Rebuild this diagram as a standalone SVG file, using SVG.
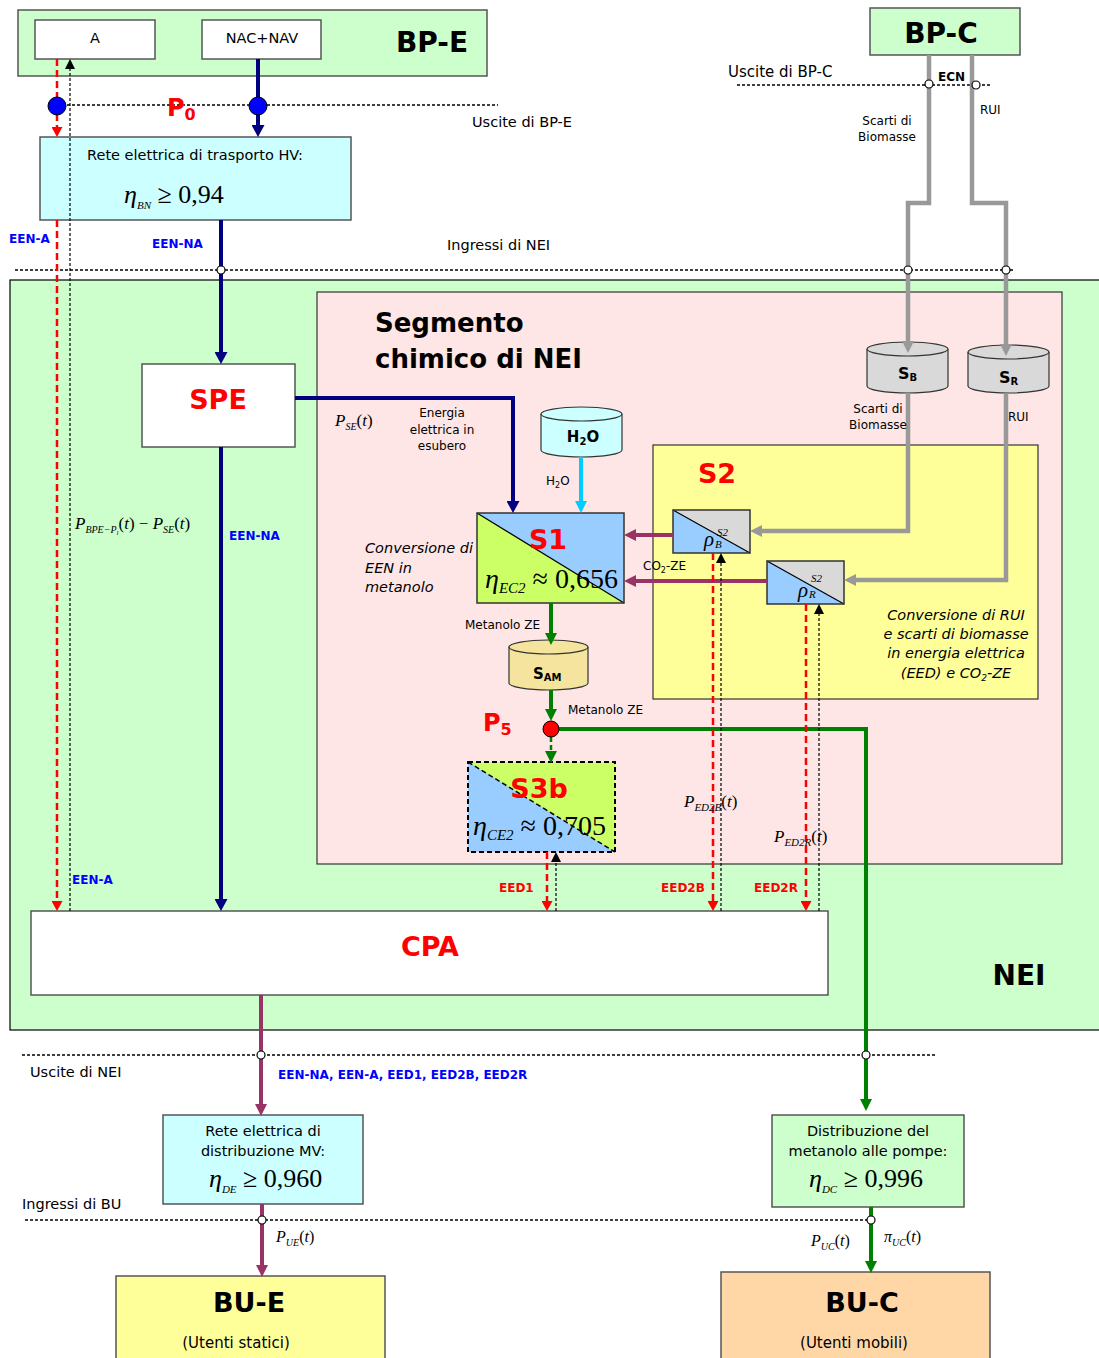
<svg xmlns="http://www.w3.org/2000/svg" width="1099" height="1358" viewBox="0 0 1099 1358">
<style>
text{font-family:"DejaVu Sans","Liberation Sans",sans-serif;fill:#000}
.t{font-size:14.5px}
.s{font-size:12px}
.b{font-weight:bold}
.it{font-style:italic}
.ttl{font-size:28px;font-weight:bold}
.red{fill:#ff0000}
.blu{fill:#0000ff;font-size:12px;font-weight:bold}
.rlb{fill:#ff0000;font-size:12px;font-weight:bold}
.m{font-family:"Liberation Serif","Times New Roman",serif}
.mi{font-family:"Liberation Serif","Times New Roman",serif;font-style:italic}
.box{stroke:#555;stroke-width:1.5}
.nv{fill:none;stroke:#000080;stroke-width:4}
.gr{fill:none;stroke:#008000;stroke-width:4}
.pu{fill:none;stroke:#993366;stroke-width:4}
.gy{fill:none;stroke:#999999;stroke-width:4.5}
.lb{fill:none;stroke:#00ccff;stroke-width:4}
.rd{fill:none;stroke:#ff0000;stroke-width:2.5;stroke-dasharray:7,4}
.bk{fill:none;stroke:#000;stroke-width:1.2;stroke-dasharray:3,2}
.hd{fill:none;stroke:#000;stroke-width:1.3;stroke-dasharray:3,2}
.oc{fill:#fff;stroke:#000;stroke-width:1.2}
</style>
<defs>
<marker id="aN" markerWidth="12" markerHeight="13" refX="0" refY="6.5" orient="auto" markerUnits="userSpaceOnUse"><path d="M0,0 L12,6.5 L0,13 z" fill="#000080"/></marker>
<marker id="aG" markerWidth="12" markerHeight="12" refX="0" refY="6" orient="auto" markerUnits="userSpaceOnUse"><path d="M0,0 L12,6 L0,12 z" fill="#008000"/></marker>
<marker id="aP" markerWidth="12" markerHeight="12" refX="0" refY="6" orient="auto" markerUnits="userSpaceOnUse"><path d="M0,0 L12,6 L0,12 z" fill="#993366"/></marker>
<marker id="aY" markerWidth="12" markerHeight="12" refX="0" refY="6" orient="auto" markerUnits="userSpaceOnUse"><path d="M0,0 L12,6 L0,12 z" fill="#999999"/></marker>
<marker id="aL" markerWidth="12" markerHeight="12" refX="0" refY="6" orient="auto" markerUnits="userSpaceOnUse"><path d="M0,0 L12,6 L0,12 z" fill="#00ccff"/></marker>
<marker id="aR" markerWidth="10" markerHeight="11" refX="0" refY="5.5" orient="auto" markerUnits="userSpaceOnUse"><path d="M0,0 L10,5.5 L0,11 z" fill="#ff0000"/></marker>
<marker id="aK" markerWidth="10" markerHeight="10" refX="0" refY="5" orient="auto" markerUnits="userSpaceOnUse"><path d="M0,0 L10,5 L0,10 z" fill="#000"/></marker>
</defs>
<rect width="1099" height="1358" fill="#fff"/>

<!-- containers -->
<g id="NEI">
<rect x="10" y="280" width="1095" height="750" fill="#ccffcc" stroke="#000" stroke-width="1.2"/>
<text x="1019" y="985" text-anchor="middle" class="ttl">NEI</text>
</g>
<g id="segmento">
<rect x="317" y="292" width="745" height="572" fill="#fde6e5" stroke="#333" stroke-width="1.2"/>
<text x="375" y="332" font-size="26" font-weight="bold">Segmento</text>
<text x="375" y="368" font-size="26" font-weight="bold">chimico di NEI</text>
</g>
<g id="S2">
<rect x="653" y="445" width="385" height="254" fill="#ffff99" stroke="#333" stroke-width="1.2"/>
<text x="717" y="483" text-anchor="middle" font-size="27" font-weight="bold" class="red">S2</text>
<text x="956" y="620" text-anchor="middle" class="t it">Conversione di RUI</text>
<text x="956" y="639" text-anchor="middle" class="t it">e scarti di biomasse</text>
<text x="956" y="658" text-anchor="middle" class="t it">in energia elettrica</text>
<text x="956" y="678" text-anchor="middle" class="t it">(EED) e CO<tspan font-size="9" dy="3">2</tspan><tspan dy="-3">-ZE</tspan></text>
</g>

<!-- boundary lines -->
<g id="boundaries">
<line x1="57" y1="105" x2="498" y2="105" class="hd"/>
<text x="472" y="127" class="t">Uscite di BP-E</text>
<line x1="737" y1="85" x2="990" y2="85" class="hd"/>
<text x="728" y="77" font-size="15">Uscite di BP-C</text>
<line x1="15" y1="270" x2="1015" y2="270" class="hd"/>
<text x="447" y="250" class="t">Ingressi di NEI</text>
<line x1="22" y1="1055" x2="936" y2="1055" class="hd"/>
<text x="30" y="1077" class="t">Uscite di NEI</text>
<line x1="25" y1="1220" x2="875" y2="1220" class="hd"/>
<text x="22" y="1209" class="t">Ingressi di BU</text>
</g>

<!-- nodes -->
<g id="BP-E">
<rect x="18" y="10" width="469" height="66" fill="#ccffcc" class="box"/>
<text x="432" y="52" text-anchor="middle" class="ttl">BP-E</text>
</g>
<g id="A">
<rect x="35" y="20" width="120" height="39" fill="#fff" class="box"/>
<text x="95" y="43" text-anchor="middle" class="t">A</text>
</g>
<g id="NACNAV">
<rect x="202" y="20" width="119" height="39" fill="#fff" class="box"/>
<text x="262" y="43" text-anchor="middle" class="t">NAC+NAV</text>
</g>
<g id="BP-C">
<rect x="870" y="8" width="150" height="47" fill="#ccffcc" class="box"/>
<text x="941" y="43" text-anchor="middle" class="ttl">BP-C</text>
</g>
<g id="HV">
<rect x="40" y="137" width="311" height="83" fill="#ccffff" class="box"/>
<text x="195" y="160" text-anchor="middle" class="t">Rete elettrica di trasporto HV:</text>
<text x="124" y="203" class="m" font-size="26"><tspan class="mi">η</tspan><tspan class="mi" font-size="11" dy="6">BN</tspan><tspan dy="-6"> ≥ 0,94</tspan></text>
</g>
<g id="SPE">
<rect x="142" y="364" width="153" height="83" fill="#fff" class="box"/>
<text x="218" y="409" text-anchor="middle" font-size="27" font-weight="bold" class="red">SPE</text>
</g>
<g id="H2O">
<path d="M541,414 V450 A40.5,7 0 0 0 622,450 V414" fill="#ccffff" stroke="#333" stroke-width="1.2"/>
<ellipse cx="581.5" cy="414" rx="40.5" ry="7" fill="#ccffff" stroke="#333" stroke-width="1.2"/>
<text x="583" y="442" text-anchor="middle" font-size="15" font-weight="bold">H<tspan font-size="10" dy="3">2</tspan><tspan dy="-3">O</tspan></text>
</g>
<g id="S1">
<rect x="477" y="513" width="147" height="90" fill="#99ccff"/>
<polygon points="477,513 624,603 477,603" fill="#ccff66"/>
<line x1="477" y1="513" x2="624" y2="603" stroke="#000" stroke-width="1.2"/>
<rect x="477" y="513" width="147" height="90" fill="none" stroke="#333" stroke-width="1.5"/>
<text x="548" y="549" text-anchor="middle" font-size="27" font-weight="bold" class="red">S1</text>
<text x="485" y="588" class="m" font-size="28"><tspan class="mi">η</tspan><tspan class="mi" font-size="15" dy="5">EC2</tspan><tspan dy="-5"> ≈ 0,656</tspan></text>
<text x="365" y="553" class="t it">Conversione di</text>
<text x="365" y="573" class="t it">EEN in</text>
<text x="365" y="592" class="t it">metanolo</text>
</g>
<g id="SAM">
<path d="M509,647 V683 A39.5,7 0 0 0 588,683 V647" fill="#f5e49e" stroke="#333" stroke-width="1.2"/>
<ellipse cx="548.5" cy="647" rx="39.5" ry="7" fill="#f5e49e" stroke="#333" stroke-width="1.2"/>
<text x="533" y="679" font-size="15" font-weight="bold">S<tspan font-size="10" dy="2">AM</tspan></text>
</g>
<g id="S3b">
<rect x="468" y="762" width="147" height="90" fill="#ccff66"/>
<polygon points="468,762 615,852 468,852" fill="#99ccff"/>
<line x1="468" y1="762" x2="615" y2="852" stroke="#000" stroke-width="1.5" stroke-dasharray="5,3"/>
<rect x="468" y="762" width="147" height="90" fill="none" stroke="#000" stroke-width="2" stroke-dasharray="5,3"/>
<text x="539" y="798" text-anchor="middle" font-size="27" font-weight="bold" class="red">S3b</text>
<text x="473" y="835" class="m" font-size="28"><tspan class="mi">η</tspan><tspan class="mi" font-size="15" dy="5">CE2</tspan><tspan dy="-5"> ≈ 0,705</tspan></text>
</g>
<g id="SB">
<path d="M867,349 V386 A40.5,7 0 0 0 948,386 V349" fill="#d9d9d9" stroke="#333" stroke-width="1.2"/>
<ellipse cx="907.5" cy="349" rx="40.5" ry="7" fill="#d9d9d9" stroke="#333" stroke-width="1.2"/>
<text x="898" y="379" font-size="16" font-weight="bold">S<tspan font-size="10" dy="2">B</tspan></text>
</g>
<g id="SR">
<path d="M968,352 V386 A40.5,7 0 0 0 1049,386 V352" fill="#d9d9d9" stroke="#333" stroke-width="1.2"/>
<ellipse cx="1008.5" cy="352" rx="40.5" ry="7" fill="#d9d9d9" stroke="#333" stroke-width="1.2"/>
<text x="999" y="383" font-size="16" font-weight="bold">S<tspan font-size="10" dy="2">R</tspan></text>
</g>
<g id="rhoB">
<rect x="673" y="510" width="77" height="43" fill="#d9d9d9"/>
<polygon points="673,510 750,553 673,553" fill="#99ccff"/>
<line x1="673" y1="510" x2="750" y2="553" stroke="#000" stroke-width="1.2"/>
<rect x="673" y="510" width="77" height="43" fill="none" stroke="#333" stroke-width="1.5"/>
<text x="704" y="546" class="mi" font-size="21">ρ</text>
<text x="717" y="536" class="mi" font-size="11">S2</text>
<text x="715" y="548" class="mi" font-size="11">B</text>
</g>
<g id="rhoR">
<rect x="767" y="561" width="77" height="43" fill="#d9d9d9"/>
<polygon points="767,561 844,604 767,604" fill="#99ccff"/>
<line x1="767" y1="561" x2="844" y2="604" stroke="#000" stroke-width="1.2"/>
<rect x="767" y="561" width="77" height="43" fill="none" stroke="#333" stroke-width="1.5"/>
<text x="798" y="597" class="mi" font-size="21">ρ</text>
<text x="811" y="582" class="mi" font-size="11">S2</text>
<text x="809" y="598" class="mi" font-size="11">R</text>
</g>
<g id="CPA">
<rect x="31" y="911" width="797" height="84" fill="#fff" class="box"/>
<text x="430" y="956" text-anchor="middle" font-size="27" font-weight="bold" class="red">CPA</text>
</g>
<g id="ReteMV">
<rect x="163" y="1115" width="200" height="89" fill="#ccffff" class="box"/>
<text x="263" y="1136" text-anchor="middle" class="t">Rete elettrica di</text>
<text x="263" y="1156" text-anchor="middle" class="t">distribuzione MV:</text>
<text x="209" y="1187" class="m" font-size="26"><tspan class="mi">η</tspan><tspan class="mi" font-size="11" dy="6">DE</tspan><tspan dy="-6"> ≥ 0,960</tspan></text>
</g>
<g id="DistMet">
<rect x="772" y="1115" width="192" height="92" fill="#ccffcc" class="box"/>
<text x="868" y="1136" text-anchor="middle" class="t">Distribuzione del</text>
<text x="868" y="1156" text-anchor="middle" class="t">metanolo alle pompe:</text>
<text x="809" y="1187" class="m" font-size="26"><tspan class="mi">η</tspan><tspan class="mi" font-size="11" dy="6">DC</tspan><tspan dy="-6"> ≥ 0,996</tspan></text>
</g>
<g id="BU-E">
<rect x="116" y="1276" width="269" height="90" fill="#ffff99" class="box"/>
<text x="249" y="1312" text-anchor="middle" font-size="27" font-weight="bold">BU-E</text>
<text x="236" y="1348" text-anchor="middle" font-size="15">(Utenti statici)</text>
</g>
<g id="BU-C">
<rect x="721" y="1272" width="269" height="94" fill="#ffd7a6" class="box"/>
<text x="862" y="1312" text-anchor="middle" font-size="27" font-weight="bold">BU-C</text>
<text x="854" y="1348" text-anchor="middle" font-size="15">(Utenti mobili)</text>
</g>

<!-- connectors -->
<g id="connectors">
<path d="M258,59 V125" class="nv" marker-end="url(#aN)"/>
<path d="M221,220 V352" class="nv" marker-end="url(#aN)"/>
<path d="M295,398 H513 V501" class="nv" marker-end="url(#aN)"/>
<path d="M221,447 V899" class="nv" marker-end="url(#aN)"/>
<path d="M581,457 V501" class="lb" marker-end="url(#aL)"/>
<path d="M551,603 V633" class="gr" marker-end="url(#aG)"/>
<path d="M551,690 V709" class="gr" marker-end="url(#aG)"/>
<path d="M551,737 V751" fill="none" stroke="#008000" stroke-width="2.5" stroke-dasharray="5,3" marker-end="url(#aG)"/>
<path d="M559,729 H866 V1099" class="gr" marker-end="url(#aG)"/>
<path d="M871,1207 V1261" class="gr" marker-end="url(#aG)"/>
<path d="M261,995 V1104" class="pu" marker-end="url(#aP)"/>
<path d="M262,1204 V1265" class="pu" marker-end="url(#aP)"/>
<path d="M673,535 H636" class="pu" marker-end="url(#aP)"/>
<path d="M767,581 H636" class="pu" marker-end="url(#aP)"/>
<path d="M929,55 V203 H908 V341" class="gy" marker-end="url(#aY)"/>
<path d="M972,55 V203 H1006 V344" class="gy" marker-end="url(#aY)"/>
<path d="M908,393 V531 H762" class="gy" marker-end="url(#aY)"/>
<path d="M1006,393 V580 H856" class="gy" marker-end="url(#aY)"/>
<path d="M57,59 V127" class="rd" marker-end="url(#aR)"/>
<path d="M57,220 V901" class="rd" marker-end="url(#aR)"/>
<path d="M547,852 V901" class="rd" marker-end="url(#aR)"/>
<path d="M713,553 V901" class="rd" marker-end="url(#aR)"/>
<path d="M806,604 V901" class="rd" marker-end="url(#aR)"/>
<path d="M70,911 V69" class="bk" marker-end="url(#aK)"/>
<path d="M556,911 V862" class="bk" marker-end="url(#aK)"/>
<path d="M721,911 V563" class="bk" marker-end="url(#aK)"/>
<path d="M819,911 V614" class="bk" marker-end="url(#aK)"/>
</g>

<!-- junction points -->
<g id="points">
<circle cx="57" cy="106" r="9" fill="#0000ff" stroke="#000" stroke-width="1"/>
<circle cx="258" cy="106" r="9" fill="#0000ff" stroke="#000" stroke-width="1"/>
<circle cx="221" cy="270" r="4" class="oc"/>
<circle cx="929" cy="84" r="4" class="oc"/>
<circle cx="976" cy="85" r="4" class="oc"/>
<circle cx="908" cy="270" r="4" class="oc"/>
<circle cx="1006" cy="270" r="4" class="oc"/>
<circle cx="261" cy="1055" r="4" class="oc"/>
<circle cx="866" cy="1055" r="4" class="oc"/>
<circle cx="262" cy="1220" r="4" class="oc"/>
<circle cx="871" cy="1220" r="4" class="oc"/>
<circle cx="551" cy="729" r="8" fill="#ff0000" stroke="#000" stroke-width="1"/>
</g>

<!-- labels -->
<g id="labels">
<text x="167" y="116" font-size="24" font-weight="bold" class="red">P<tspan font-size="16" dy="4">0</tspan></text>
<text x="483" y="731" font-size="24" font-weight="bold" class="red">P<tspan font-size="16" dy="4">5</tspan></text>
<text x="9" y="243" class="blu">EEN-A</text>
<text x="152" y="248" class="blu">EEN-NA</text>
<text x="229" y="540" class="blu">EEN-NA</text>
<text x="72" y="884" class="blu">EEN-A</text>
<text x="278" y="1079" class="blu">EEN-NA, EEN-A, EED1, EED2B, EED2R</text>
<text x="938" y="81" font-size="12" font-weight="bold" fill="#008000">ECN</text>
<text x="980" y="114" class="s">RUI</text>
<text x="887" y="125" text-anchor="middle" class="s">Scarti di</text>
<text x="887" y="141" text-anchor="middle" class="s">Biomasse</text>
<text x="878" y="413" text-anchor="middle" class="s">Scarti di</text>
<text x="878" y="429" text-anchor="middle" class="s">Biomasse</text>
<text x="1008" y="421" class="s">RUI</text>
<text x="442" y="417" text-anchor="middle" class="s">Energia</text>
<text x="442" y="434" text-anchor="middle" class="s">elettrica in</text>
<text x="442" y="450" text-anchor="middle" class="s">esubero</text>
<text x="546" y="485" class="s">H<tspan font-size="8" dy="3">2</tspan><tspan dy="-3">O</tspan></text>
<text x="643" y="570" class="s">CO<tspan font-size="8" dy="3">2</tspan><tspan dy="-3">-ZE</tspan></text>
<text x="465" y="629" class="s">Metanolo ZE</text>
<text x="568" y="714" class="s">Metanolo ZE</text>
<text x="499" y="892" class="rlb">EED1</text>
<text x="661" y="892" class="rlb">EED2B</text>
<text x="754" y="892" class="rlb">EED2R</text>
<text x="335" y="426" class="m" font-size="17"><tspan class="mi">P</tspan><tspan class="mi" font-size="10" dy="4">SE</tspan><tspan dy="-4">(</tspan><tspan class="mi">t</tspan>)</text>
<text x="75" y="529" class="m" font-size="17"><tspan class="mi">P</tspan><tspan class="mi" font-size="10" dy="4">BPE−P</tspan><tspan class="mi" font-size="7" dy="2">l</tspan><tspan dy="-6">(</tspan><tspan class="mi">t</tspan>) − <tspan class="mi">P</tspan><tspan class="mi" font-size="10" dy="4">SE</tspan><tspan dy="-4">(</tspan><tspan class="mi">t</tspan>)</text>
<text x="684" y="807" class="m" font-size="17" fill="#222"><tspan class="mi">P</tspan><tspan class="mi" font-size="11" dy="4">ED2B</tspan><tspan dy="-4">(</tspan><tspan class="mi">t</tspan>)</text>
<text x="774" y="842" class="m" font-size="17" fill="#222"><tspan class="mi">P</tspan><tspan class="mi" font-size="11" dy="4">ED2R</tspan><tspan dy="-4">(</tspan><tspan class="mi">t</tspan>)</text>
<text x="276" y="1242" class="m" font-size="16"><tspan class="mi">P</tspan><tspan class="mi" font-size="10" dy="4">UE</tspan><tspan dy="-4">(</tspan><tspan class="mi">t</tspan>)</text>
<text x="811" y="1246" class="m" font-size="16"><tspan class="mi">P</tspan><tspan class="mi" font-size="10" dy="4">UC</tspan><tspan dy="-4">(</tspan><tspan class="mi">t</tspan>)</text>
<text x="884" y="1242" class="m" font-size="16"><tspan class="mi">π</tspan><tspan class="mi" font-size="10" dy="4">UC</tspan><tspan dy="-4">(</tspan><tspan class="mi">t</tspan>)</text>
</g>
</svg>
